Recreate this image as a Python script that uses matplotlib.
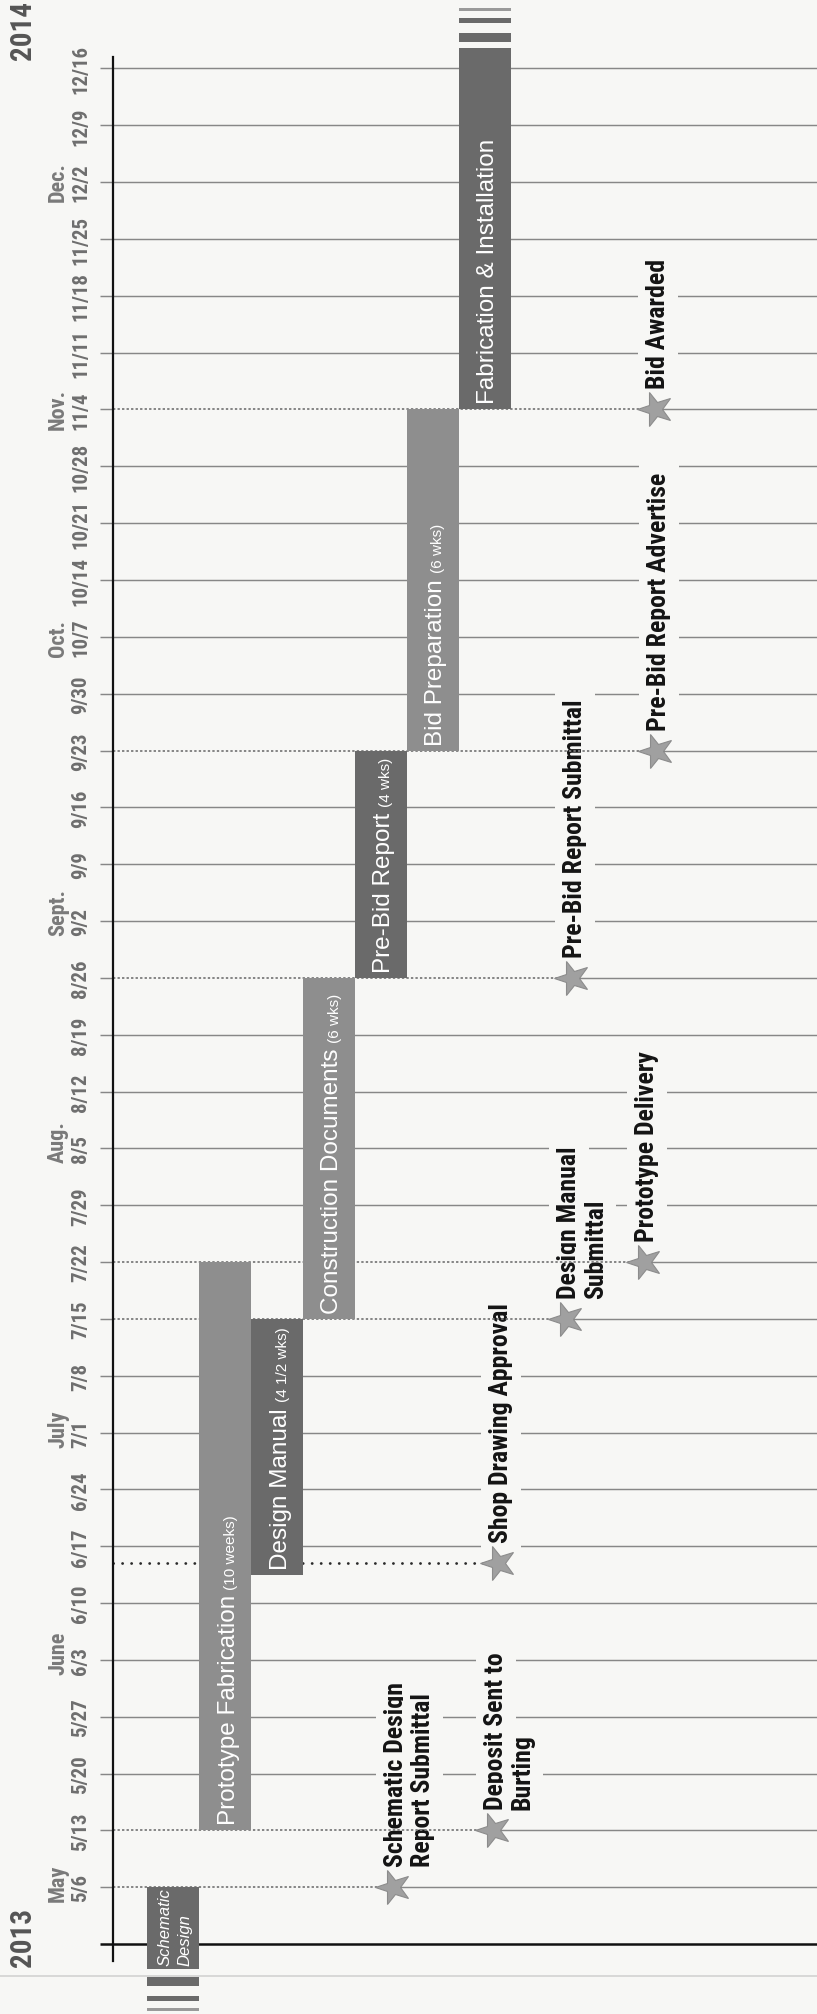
import os
import matplotlib
matplotlib.use("Agg")
import matplotlib.pyplot as plt
import matplotlib.dates as mdates
import pandas as pd
from matplotlib import font_manager
from matplotlib.font_manager import FontProperties
from matplotlib.markers import MarkerStyle
from matplotlib.transforms import Affine2D
from matplotlib.lines import Line2D

# ---------------- schedule data ----------------
phase_names = ["Schematic\nDesign", "Prototype Fabrication", "Design Manual",
               "Construction Documents", "Pre-Bid Report", "Bid Preparation",
               "Fabrication & Installation"]
phase_notes = ["", "(10 weeks)", "(4 1/2 wks)", "(6 wks)", "(4 wks)", "(6 wks)", ""]
phase_start = ["2013-04-26", "2013-05-13", "2013-06-13 12:00", "2013-07-15",
               "2013-08-26", "2013-09-23", "2013-11-04"]
phase_end = ["2013-05-06", "2013-07-22", "2013-07-15", "2013-08-26",
             "2013-09-23", "2013-11-04", "2013-12-18 12:00"]
# phases that run past the edge of the time window
phase_continues = ["before", None, None, None, None, None, "after"]

milestone_names = ["Schematic Design\nReport Submittal", "Deposit Sent to\nBurting",
                   "Shop Drawing Approval", "Design Manual\nSubmittal",
                   "Prototype Delivery", "Pre-Bid Report Submittal",
                   "Pre-Bid Report Advertise", "Bid Awarded"]
milestone_dates = ["2013-05-06", "2013-05-13", "2013-06-15", "2013-07-15",
                   "2013-07-22", "2013-08-26", "2013-09-23", "2013-11-04"]

week_dates = pd.date_range("2013-05-06", "2013-12-16", freq="7D")
week_labels = [f"{d.month}/{d.day}" for d in week_dates]

month_labels = ["May", "June", "July", "Aug.", "Sept.", "Oct.", "Nov.", "Dec."]
month_dates = ["2013-05-06", "2013-06-03", "2013-07-01", "2013-08-05",
               "2013-09-02", "2013-10-07", "2013-11-04", "2013-12-02"]
year_labels = ["2013", "2014"]


# ---------------- fonts ----------------
def font_file(patterns):
    files = [f.fname for f in font_manager.fontManager.ttflist]
    for p in patterns:
        for fn in files:
            if os.path.basename(fn).lower().startswith(p.lower()):
                return fn
    return None


narrow_bold_file = font_file(["LiberationSansNarrow-Bold", "RobotoCondensed-Bold",
                              "Roboto_Condensed-Bold", "NotoSans-CondensedBold",
                              "OpenSans-CondensedBold", "OpenSans_Condensed-Bold",
                              "DejaVuSansCondensed-Bold"])
sans_file = font_file(["LiberationSans-Regular", "Arimo-Regular"])
italic_file = font_file(["LiberationSans-Italic", "Arimo-Italic"])


def narrow(size):
    if narrow_bold_file:
        return FontProperties(fname=narrow_bold_file, size=size)
    return FontProperties(family="DejaVu Sans", stretch="condensed",
                          weight="bold", size=size * 0.85)


def sans(size):
    if sans_file:
        return FontProperties(fname=sans_file, size=size)
    return FontProperties(family="DejaVu Sans", size=size * 0.9)


def sans_italic(size):
    if italic_file:
        return FontProperties(fname=italic_file, size=size)
    return FontProperties(family="DejaVu Sans", style="italic", size=size * 0.9)


# ---------------- layout / style ----------------
W_PX, H_PX = 817, 2015
LANE_PX, LANE0_PX = 52.0, 147.0
BASE = mdates.date2num(pd.Timestamp("2013-05-06"))
BASE_PX = 1888.3
PX_PER_DAY = 56.84 / 7.0


def xpx(px):
    return (px - LANE0_PX) / LANE_PX


def ypx(px):
    return BASE + (BASE_PX - px) / PX_PER_DAY


def dnum(s):
    return mdates.date2num(pd.Timestamp(s))


BG = "#f7f7f5"
DARK = "#6a6a6a"
LIGHT = "#8e8e8e"
GRID = "#878787"
phase_color = [DARK, LIGHT, DARK, LIGHT, DARK, LIGHT, DARK]
milestone_x_px = [393, 493, 498, 566, 644, 572, 656, 655]

fig = plt.figure(figsize=(W_PX / 100, H_PX / 100), dpi=100)
fig.patch.set_facecolor(BG)
ax = fig.add_axes([100 / W_PX, 0, (W_PX - 100) / W_PX, 1])
ax.set_facecolor(BG)
ax.set_xlim(xpx(100), xpx(W_PX))
ax.set_ylim(ypx(H_PX), ypx(0))

for side in ("top", "right", "bottom"):
    ax.spines[side].set_visible(False)
ax.spines["left"].set_position(("data", xpx(113)))
ax.spines["left"].set_bounds(ypx(1962), ypx(58))
ax.spines["left"].set_linewidth(1.6)
ax.spines["left"].set_color("#111111")
ax.set_xticks([])

week_nums = mdates.date2num(week_dates)
ax.set_yticks(week_nums)
ax.set_yticklabels(week_labels, rotation=90, va="center",
                   fontproperties=narrow(15), color="#6e6e6e")
ax.tick_params(axis="y", direction="out", length=13 * 0.72, width=1.05,
               color=GRID, pad=10 * 0.72)

# horizontal base line
ax.plot([xpx(100), xpx(W_PX)], [dnum("2013-04-29")] * 2, color="#111111",
        lw=1.8, solid_capstyle="butt", zorder=2, clip_on=False)

# weekly rules; milestone weeks are dotted from the axis to the star
mile_nums = [dnum(d) for d in milestone_dates]
for wn in week_nums:
    x_from = xpx(113)
    if wn in mile_nums:
        k = mile_nums.index(wn)
        sx = xpx(milestone_x_px[k])
        ax.plot([x_from, sx], [wn, wn], color="#7c7c7c", lw=1.3,
                linestyle=(0, (1.3, 1.2)), zorder=2.5)
        x_from = sx
    ax.plot([x_from, xpx(W_PX)], [wn, wn], color=GRID, lw=1.05,
            solid_capstyle="butt", zorder=1)

# off-grid milestone (heavy dotted leader)
for k, mn in enumerate(mile_nums):
    if mn not in week_nums:
        ax.plot([xpx(113), xpx(milestone_x_px[k])], [mn, mn], color="#2a2a2a",
                lw=2.0, linestyle=(0, (0.05, 3.2)), dash_capstyle="round",
                zorder=2.5)

# phase bars
starts = [dnum(s) for s in phase_start]
ends = [dnum(e) for e in phase_end]
for i in range(len(phase_names)):
    ax.bar(i + 0.5, ends[i] - starts[i], bottom=starts[i], width=1.0,
           color=phase_color[i], zorder=3, linewidth=0)
    stripes = [(8, 9.5, phase_color[i]), (27, 5, phase_color[i]), (39.5, 2.8, "#9a9a9a")]
    if phase_continues[i] == "before":
        for gap, th, c in stripes:
            top = starts[i] - gap / PX_PER_DAY
            ax.bar(i + 0.5, th / PX_PER_DAY, bottom=top - th / PX_PER_DAY,
                   width=1.0, color=c, zorder=3, linewidth=0)
    elif phase_continues[i] == "after":
        for gap, th, c in stripes:
            bot = ends[i] + (gap - 2) / PX_PER_DAY
            ax.bar(i + 0.5, th / PX_PER_DAY, bottom=bot, width=1.0, color=c,
                   zorder=3, linewidth=0)

# bar labels
for i, name in enumerate(phase_names):
    if "\n" in name:
        for j, line in enumerate(name.split("\n")):
            ax.text(xpx(170 + 19 * j) + i, starts[i] + 3 / PX_PER_DAY, line,
                    rotation=90, rotation_mode="anchor", ha="left", va="baseline",
                    fontproperties=sans_italic(12), color="white", zorder=4)
        continue
    xb = i + 0.5 + 9.5 / LANE_PX
    t = ax.text(xb, starts[i] + 6 / PX_PER_DAY, name, rotation=90,
                rotation_mode="anchor", ha="left", va="baseline",
                fontproperties=sans(17.5), color="white", zorder=4)
    if phase_notes[i]:
        ax.annotate(phase_notes[i], xy=(xb, 1.0), xycoords=("data", t),
                    xytext=(0, 4), textcoords="offset points", rotation=90,
                    rotation_mode="anchor", ha="left", va="baseline",
                    fontproperties=sans(11), color="white", zorder=4)

# milestones
star = MarkerStyle("*", transform=Affine2D().rotate_deg(90))
for k, (name, mn) in enumerate(zip(milestone_names, mile_nums)):
    sx = xpx(milestone_x_px[k])
    ax.plot([sx], [mn], marker=star, ms=26, mfc="#a0a0a0", mec="#8c8c8c",
            mew=0.8, zorder=6, linestyle="none")
    for j, line in enumerate(name.split("\n")):
        ax.text(xpx(milestone_x_px[k] + 10 + 27 * j), mn + 21 / PX_PER_DAY, line,
                rotation=90, rotation_mode="anchor", ha="left", va="baseline",
                fontproperties=narrow(18.5), color="#141414", zorder=2,
                bbox=dict(boxstyle="square,pad=0.3", fc=BG, ec="none"))

# month names sit above the first week label of each month
fig.canvas.draw()
renderer = fig.canvas.get_renderer()
inv = ax.transData.inverted()
label_box = {}
for tl in ax.yaxis.get_ticklabels():
    if tl.get_text():
        label_box[tl.get_text()] = tl.get_window_extent(renderer)
for mname, md in zip(month_labels, month_dates):
    d = pd.Timestamp(md)
    bb = label_box[f"{d.month}/{d.day}"]
    y0 = inv.transform((bb.x0, bb.y0))[1]
    ax.text(xpx(58), y0, mname, rotation=90, ha="center", va="bottom",
            fontproperties=narrow(16), color="#7a7a7a")

# years
ax.text(xpx(23), ypx(1937), year_labels[0], rotation=90, ha="center", va="center",
        fontproperties=narrow(21), color="#555555")
ax.text(xpx(23), ypx(30), year_labels[1], rotation=90, ha="center", va="center",
        fontproperties=narrow(21), color="#555555")

# faint page edge near the bottom
fig.add_artist(Line2D([0, 1], [1 - 1977 / H_PX] * 2, transform=fig.transFigure,
                      color="#d2d2d2", lw=1.2))

fig.savefig("out.png", dpi=100, facecolor=BG)
